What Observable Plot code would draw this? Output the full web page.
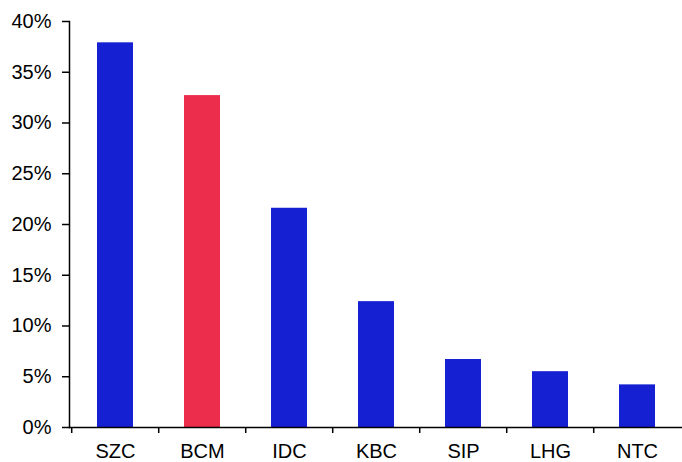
<!DOCTYPE html>
<html>
<head>
<meta charset="utf-8">
<script src="https://cdn.jsdelivr.net/npm/d3@7"></script>
<script src="https://cdn.jsdelivr.net/npm/@observablehq/plot@0.6"></script>
<style>
  html, body { margin: 0; padding: 0; background: #fff; }
  #chart { width: 682px; height: 462px; }
</style>
</head>
<body>
<div id="chart"></div>
<script>
const categories = ["SZC", "BCM", "IDC", "KBC", "SIP", "LHG", "NTC"];
const values = [37.9, 32.7, 21.6, 12.4, 6.7, 5.5, 4.2];
const highlight = ["BCM"];
const yTicks = [0, 5, 10, 15, 20, 25, 30, 35, 40];

const data = categories.map((c, i) => ({cat: c, value: values[i], hl: highlight.includes(c)}));

const W = 682, H = 462, mL = 69, mR = 0, mT = 21, mB = 35;
const step = (W - mL - mR) / categories.length;

const chart = Plot.plot({
  width: W,
  height: H,
  marginLeft: mL,
  marginRight: mR,
  marginTop: mT,
  marginBottom: mB,
  style: {fontFamily: "'Liberation Sans', Arial, sans-serif", fontSize: "20px", color: "#000", background: "#fff", overflow: "visible"},
  x: {domain: categories, paddingInner: 0.59, paddingOuter: 0.295, label: null, axis: null},
  y: {domain: [0, 40], label: null, axis: null},
  marks: [
    Plot.barY(data, {x: "cat", y: "value", fill: d => d.hl ? "#ec2d4c" : "#1520d2"}),
    Plot.axisY({ticks: yTicks, tickFormat: d => d + "%", tickSize: 7, tickPadding: 11, fontSize: 20, stroke: "#000", strokeWidth: 1.5, label: null}),
    Plot.axisX({tickSize: 0, tickPadding: 16, fontSize: 20, label: null}),
    Plot.axisX({tickSize: 6, tickFormat: () => "", dx: -step / 2, stroke: "#000", strokeWidth: 1.5, label: null}),
    Plot.frame({anchor: "left", stroke: "#000", strokeWidth: 1.5}),
    Plot.frame({anchor: "bottom", stroke: "#000", strokeWidth: 1.5})
  ]
});
document.getElementById("chart").appendChild(chart);
</script>
</body>
</html>
